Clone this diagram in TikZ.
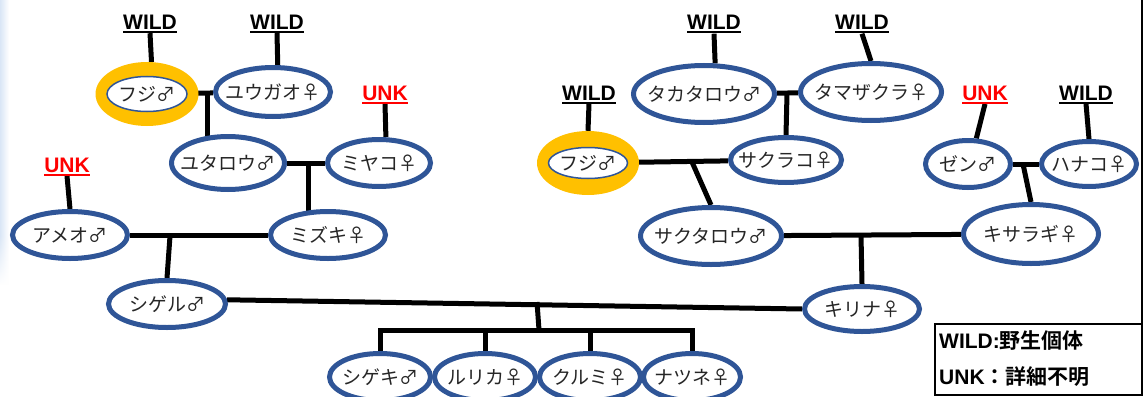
\documentclass[tikz,border=0pt]{standalone}
\usepackage{fontspec}
\usetikzlibrary{shapes.geometric,calc,fadings}
\newfontfamily\jp{Noto Sans CJK JP}[BoldFont={Noto Sans CJK JP Bold}]
\newfontfamily\lat{Liberation Sans}
\definecolor{nodeblue}{RGB}{47,85,151}
\definecolor{gold}{RGB}{255,192,0}
\definecolor{txt}{RGB}{38,38,38}
\definecolor{unkred}{RGB}{255,0,0}
\definecolor{edgeblue}{RGB}{218,230,246}
\pgfdeclarelayer{bg}
\pgfsetlayers{bg,main}
\newcommand\pname[1]{\makebox[0pt]{#1}}
\newcommand\ulbl[1]{\vtop{\hbox{#1}\kern1.5pt\hrule height 2pt}}
\newcommand\lgl[1]{{\lat\bfseries\fontsize{21}{21}\selectfont #1}}
\tikzset{
  pers/.style={ellipse, draw=nodeblue, line width=5pt, fill=white, inner sep=0pt, text=txt, font=\jp\fontsize{19}{19}\selectfont},
  ringnode/.style={ellipse, fill=gold, inner sep=0pt, minimum width=103pt, minimum height=64pt},
  conn/.style={line width=5pt, black},
  wild/.style={anchor=base, inner sep=0pt, font=\lat\bfseries\fontsize{21}{21}\selectfont, text=black},
  unk/.style={wild, text=unkred},
  legendtxt/.style={anchor=base west, inner sep=0pt, text=black, font=\jp\bfseries\fontsize{21}{21}\selectfont}
}
\begin{document}
\begin{tikzpicture}[x=1pt,y=-1pt]
\useasboundingbox (0,0) rectangle (1145,396);
% --- persons ---
\node[ringnode] (fujiLo) at (147,94) {};
\node[pers, line width=1.5pt, minimum width=80pt, minimum height=35pt] (fujiL) at (147,94) {\pname{フジ♂}};
\node[pers, minimum width=115pt, minimum height=49pt] (yuugao) at (273,92) {\pname{ユウガオ♀}};
\node[pers, minimum width=113pt, minimum height=53pt] (yutarou) at (228,163) {\pname{ユタロウ♂}};
\node[pers, minimum width=103pt, minimum height=47pt] (miyako) at (379,163) {\pname{ミヤコ♀}};
\node[pers, minimum width=115pt, minimum height=47pt] (ameo) at (70,235) {\pname{アメオ♂}};
\node[pers, minimum width=115pt, minimum height=47pt] (mizuki) at (328,235) {\pname{ミズキ♀}};
\node[pers, minimum width=117pt, minimum height=47pt] (shigeru) at (167,304) {\pname{シゲル♂}};
\node[pers, minimum width=101pt, minimum height=47pt] (shigeki) at (380,377) {\pname{シゲキ♂}};
\node[pers, minimum width=101pt, minimum height=47pt] (ruruka) at (485,377) {\pname{ルリカ♀}};
\node[pers, minimum width=101pt, minimum height=47pt] (kurumi) at (590,377) {\pname{クルミ♀}};
\node[pers, minimum width=97pt, minimum height=47pt] (natsune) at (692,377) {\pname{ナツネ♀}};
\node[pers, minimum width=141pt, minimum height=57pt] (takataro) at (704,94) {\pname{タカタロウ♂}};
\node[pers, minimum width=141pt, minimum height=57pt] (tamazakura) at (871,92) {\pname{タマザクラ♀}};
\node[ringnode, minimum width=102pt] (fujiRo) at (588,163) {};
\node[pers, line width=1.5pt, minimum width=79pt, minimum height=31pt] (fujiR) at (588,163) {\pname{フジ♂}};
\node[pers, minimum width=111pt, minimum height=45pt] (sakurako) at (786,160) {\pname{サクラコ♀}};
\node[pers, minimum width=141pt, minimum height=57pt] (sakutarou) at (711,236) {\pname{サクタロウ♂}};
\node[pers, minimum width=85pt, minimum height=47pt] (zen) at (968,164) {\pname{ゼン♂}};
\node[pers, minimum width=95pt, minimum height=45pt] (hanako) at (1089,164) {\pname{ハナコ♀}};
\node[pers, minimum width=135pt, minimum height=59pt] (kisaragi) at (1031,234) {\pname{キサラギ♀}};
\node[pers, minimum width=115pt, minimum height=45pt] (kirina) at (862,309) {\pname{キリナ♀}};
% --- labels ---
\node[wild] (w1) at (150,29.5) {\ulbl{WILD}};
\node[wild] (w2) at (277,29.5) {\ulbl{WILD}};
\node[unk] (u1) at (385,100) {\ulbl{UNK}};
\node[unk] (u2) at (67,172) {\ulbl{UNK}};
\node[wild] (w3) at (589,100) {\ulbl{WILD}};
\node[wild] (w4) at (714,30) {\ulbl{WILD}};
\node[wild] (w5) at (862,30) {\ulbl{WILD}};
\node[unk] (u3) at (985,100) {\ulbl{UNK}};
\node[wild] (w6) at (1086,100) {\ulbl{WILD}};
% --- legend ---
\node[draw=black, line width=1.2pt, minimum width=207pt, minimum height=71pt, inner sep=0pt] (legend) at (1038.5,359.5) {};
\node[legendtxt] (lg1) at (939,348) {\lgl{WILD:}野生個体};
\node[legendtxt] (lg2) at (939,384) {\lgl{UNK}：詳細不明};
\coordinate (rt) at (1142,0);
\coordinate (rb) at (1142,396);
\draw[line width=1.5pt, black] (rt) -- (rb);
% --- connectors (behind) ---
\begin{pgfonlayer}{bg}
\fill[white] (0,0) rectangle (1145,396);
\shade[left color=edgeblue, right color=white] (0,0) rectangle (9,235);
\shade[left color=edgeblue, right color=white, path fading=south] (0,235) rectangle (9,285);
\coordinate (jA) at (207,93);
\coordinate (jB) at (308,163);
\coordinate (jC) at (170,236);
\coordinate (jD) at (787,94);
\coordinate (jE) at (692,162);
\coordinate (jF) at (1023,164);
\coordinate (jG) at (861,235);
\coordinate (cj) at (537,302);
\coordinate (cb) at (539,330);
\draw[conn] (fujiL) -- (yuugao);
\draw[conn] (jA) -- (jA |- yutarou);
\draw[conn] (yutarou) -- (miyako);
\draw[conn] (jB) -- (jB |- mizuki);
\draw[conn] (ameo) -- (mizuki);
\draw[conn] (jC) -- (shigeru.north);
\draw[conn] (takataro) -- (tamazakura);
\draw[conn] (jD) -- (sakurako.north);
\draw[conn] (fujiR) -- (sakurako);
\draw[conn] (jE) -- (sakutarou.north);
\draw[conn] (zen) -- (hanako);
\draw[conn] (jF) -- (kisaragi.north);
\draw[conn] (sakutarou) -- (kisaragi);
\draw[conn] (jG) -- (kirina.north);
\draw[conn] (shigeru.4) -- (kirina.west);
\draw[conn] (cj) -- (cb);
\draw[conn] (shigeki.north) -- (shigeki.north |- cb) -- (natsune.north |- cb) -- (natsune.north);
\draw[conn] (ruruka.north) -- (ruruka.north |- cb);
\draw[conn] (kurumi.north) -- (kurumi.north |- cb);
\draw[conn] (w1.south) -- (fujiLo.82);
\draw[conn] (w2.south) -- (yuugao.80);
\draw[conn] (u1.south) -- (miyako.75);
\draw[conn] (u2.south) -- (ameo.north);
\draw[conn] (w3.south) -- (fujiRo.north);
\draw[conn] (w4.south) -- (takataro.70);
\draw[conn] (w5.south) -- (tamazakura.north);
\draw[conn] (u3.south) -- (zen.72);
\draw[conn] (w6.south) -- (hanako.north);
\end{pgfonlayer}
\end{tikzpicture}
\end{document}
